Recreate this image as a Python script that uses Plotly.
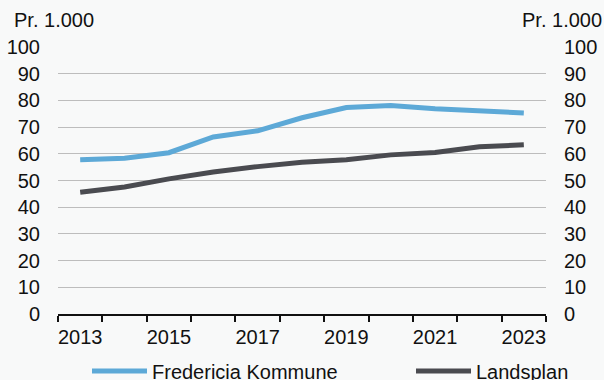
import plotly.graph_objects as go

years = list(range(2013, 2024))
fredericia = [57.8, 58.3, 60.4, 66.3, 68.6, 73.5, 77.3, 78.1, 76.9, 76.3, 75.3]
landsplan = [45.6, 47.6, 50.6, 53.2, 55.2, 56.8, 57.8, 59.6, 60.5, 62.6, 63.4]
tick_years = [2013, 2015, 2017, 2019, 2021, 2023]
y_ticks = list(range(0, 101, 10))
unit_label = "Pr. 1.000"

BLUE = "#5DA9D7"
DARK = "#4A4B50"
BG = "#F8F9F9"
FONT = "Liberation Sans, Arial, sans-serif"
FS = 20

W, H = 604, 380
ML, MR, MT, MB = 58, 58, 47, 66
PW, PH = W - ML - MR, H - MT - MB

def px_x(p):
    return (p - ML) / PW

def px_y(p):
    return (H - MB - p) / PH

fig = go.Figure()
fig.add_trace(go.Scatter(x=years, y=fredericia, mode="lines", name="Fredericia Kommune",
                         line=dict(color=BLUE, width=5), legend="legend"))
fig.add_trace(go.Scatter(x=years, y=landsplan, mode="lines", name="Landsplan",
                         line=dict(color=DARK, width=5), legend="legend2"))
# invisible trace to activate right axis
fig.add_trace(go.Scatter(x=years, y=landsplan, yaxis="y2", mode="lines",
                         line=dict(width=0), showlegend=False, hoverinfo="skip", opacity=0))

leg_common = dict(orientation="h", yanchor="middle", xanchor="left", itemwidth=55,
                  font=dict(size=FS), bgcolor="rgba(0,0,0,0)", borderwidth=0)

fig.update_layout(
    width=W, height=H,
    margin=dict(l=ML, r=MR, t=MT, b=MB, autoexpand=False),
    paper_bgcolor=BG, plot_bgcolor=BG,
    font=dict(family=FONT, size=FS, color="#111111"),
    showlegend=True,
    legend=dict(x=px_x(87), y=px_y(371), **leg_common),
    legend2=dict(x=px_x(411), y=px_y(371), **leg_common),
    xaxis=dict(range=[2012.5, 2023.5], tickvals=tick_years, ticktext=[str(y) for y in tick_years],
               ticks="", showgrid=False, showline=True, linecolor="#111111", linewidth=1.5,
               ticklabelstandoff=4, zeroline=False,
               minor=dict(tickvals=[2012.5 + i for i in range(12)], ticks="outside",
                          ticklen=6, tickcolor="#111111", tickwidth=1.5, showgrid=False)),
    yaxis=dict(range=[0, 100], tickvals=y_ticks, showgrid=True, gridcolor="#BDBDBD", gridwidth=1,
               zeroline=False, showline=False, ticks="", ticklabelstandoff=17),
    yaxis2=dict(range=[0, 100], tickvals=y_ticks, overlaying="y", side="right", showgrid=False,
                zeroline=False, showline=False, ticks="", ticklabelstandoff=17),
    annotations=[
        dict(text=unit_label, xref="paper", yref="paper", x=px_x(12), y=px_y(20),
             xanchor="left", yanchor="middle", showarrow=False, font=dict(size=FS)),
        dict(text=unit_label, xref="paper", yref="paper", x=px_x(604), y=px_y(20),
             xanchor="right", yanchor="middle", showarrow=False, font=dict(size=FS)),
    ],
)

fig.write_html("out.html", config={"displayModeBar": False},
               post_script="document.body.style.margin='0';document.body.style.background='%s';" % BG)
